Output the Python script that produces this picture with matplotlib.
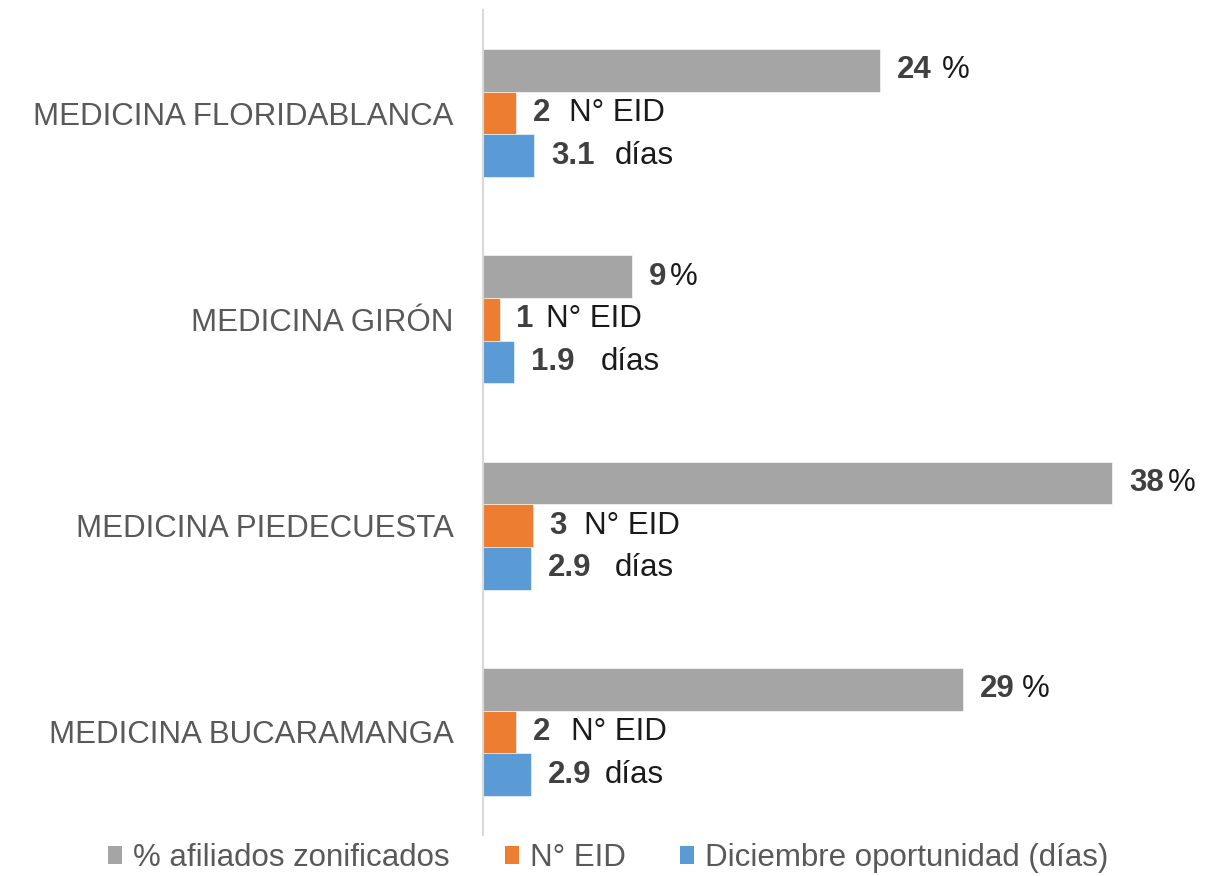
import matplotlib
matplotlib.use("Agg")
import matplotlib.pyplot as plt
from matplotlib.patches import Patch
import numpy as np

plt.rcParams['font.family'] = ['Liberation Sans', 'DejaVu Sans']

categories = ["MEDICINA FLORIDABLANCA", "MEDICINA GIRÓN", "MEDICINA PIEDECUESTA", "MEDICINA BUCARAMANGA"]
pct_afiliados = [24, 9, 38, 29]
num_eid = [2, 1, 3, 2]
oportunidad = [3.1, 1.9, 2.9, 2.9]

series_names = ["% afiliados zonificados", "N° EID", "Diciembre oportunidad (días)"]
value_texts = [["24", "9", "38", "29"], ["2", "1", "3", "2"], ["3.1", "1.9", "2.9", "2.9"]]
unit_texts = ["%", "N° EID", "días"]

# styling
colors = ["#A5A5A5", "#ED7D31", "#5B9BD5"]
gaps_px = [[10, 4, 4, 7], [19, 12, 17, 21], [20, 26, 23, 13]]

W, H = 1217, 876
fig = plt.figure(figsize=(W / 100, H / 100), dpi=100)
ax_left, ax_right = 483, 1145
ax_top, ax_bottom = 10, 835
ax = fig.add_axes([ax_left / W, 1 - ax_bottom / H, (ax_right - ax_left) / W, (ax_bottom - ax_top) / H])

y = np.arange(len(categories))
bh = 0.207
series = [pct_afiliados, num_eid, oportunidad]
offsets = [-bh, 0, bh]
fs = 22.5
for si, vals in enumerate(series):
    ax.barh(y + offsets[si], vals, height=bh, color=colors[si], edgecolor='white', linewidth=0.4)
    for ci, v in enumerate(vals):
        t = ax.annotate(value_texts[si][ci], xy=(v, y[ci] + offsets[si]), xytext=(12.2, 0),
                        textcoords='offset points', va='center', ha='left',
                        fontsize=fs, fontweight='bold', color='#404040')
        ax.annotate(unit_texts[si], xy=(1, 0.5), xycoords=t,
                    xytext=(gaps_px[si][ci] * 0.72, 0), textcoords='offset points',
                    va='center', ha='left', fontsize=fs, color='#1a1a1a')

ax.set_xlim(0, (ax_right - ax_left) / 16.55)
ax.set_ylim(len(categories) - 0.5, -0.5)
ax.set_yticks(y)
ax.set_yticklabels(categories, fontsize=fs, color='#595959')
ax.tick_params(axis='y', length=0, pad=21)
ax.set_xticks([])
for s in ['top', 'right', 'bottom']:
    ax.spines[s].set_visible(False)
ax.spines['left'].set_color('#D9D9D9')
ax.spines['left'].set_linewidth(1.5)

handles = [Patch(facecolor=c, edgecolor='none') for c in colors]
leg = fig.legend(handles, series_names, loc='center', bbox_to_anchor=(0.5, 1 - 858 / H),
                 ncol=3, frameon=False, fontsize=fs, handlelength=0.45, handleheight=0.5,
                 handletextpad=0.35, columnspacing=1.75, borderaxespad=0)
for txt in leg.get_texts():
    txt.set_color('#595959')

fig.savefig("out.png", dpi=100)
